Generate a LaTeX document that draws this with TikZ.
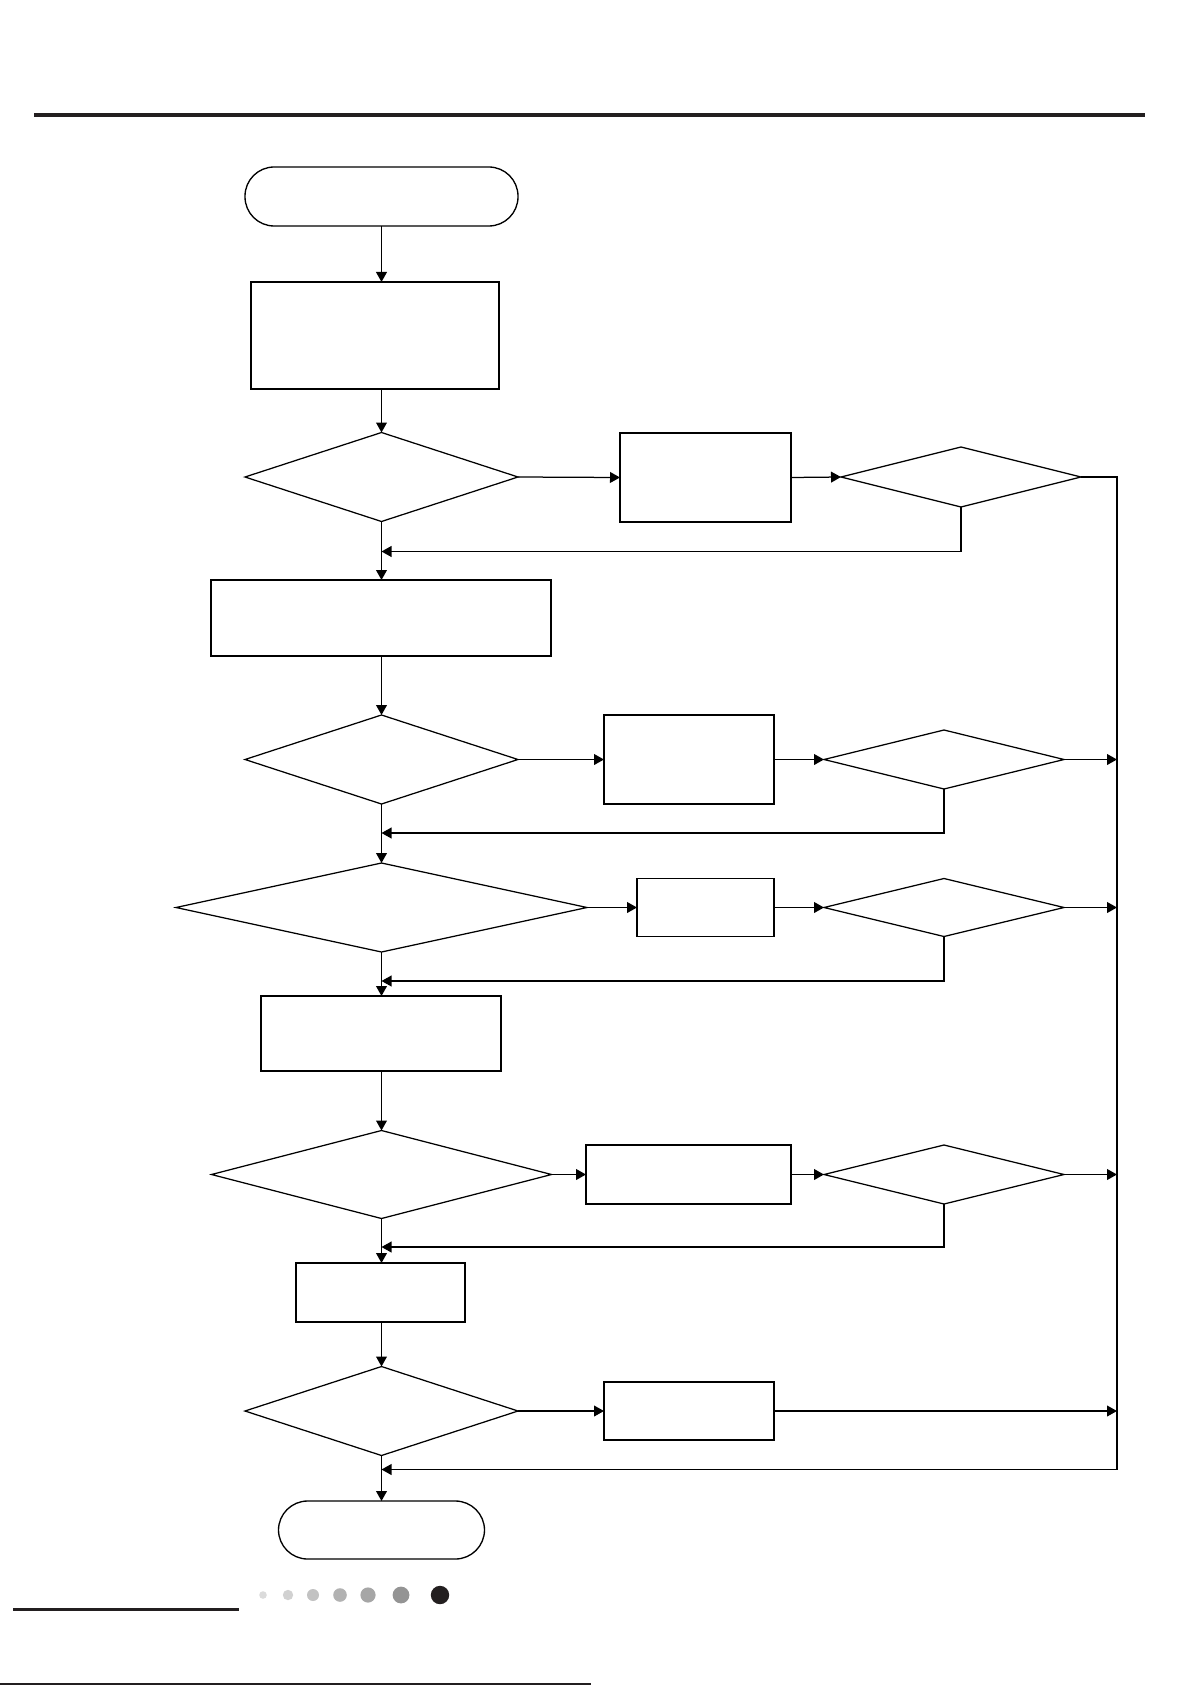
\documentclass[tikz,border=0pt]{standalone}
\usetikzlibrary{shapes.geometric,arrows.meta}
\newcommand\pxu{0.6pt}
\tikzset{
  sz/.style 2 args={minimum width=#1*\pxu, minimum height=#2*\pxu, inner sep=0pt, outer sep=0pt},
  procbox/.style={draw, rectangle, line width=1.15pt},
  decis/.style={draw, diamond, line width=0.75pt},
  termin/.style={draw, rectangle, rounded corners=17.5pt, line width=0.8pt},
  conn/.style={line width=0.75pt},
  arr/.style={conn, -{Triangle[length=6pt,width=6.5pt]}},
  rule/.style={color=rulecol},
}
\definecolor{rulecol}{HTML}{231F20}
\begin{document}
\begin{tikzpicture}[x=0.6pt, y=-0.6pt]
\useasboundingbox (0,0) rectangle (1191,1685);
% decorations
\draw[rule, line width=2.4pt] (34,115) -- (1145,115);
\draw[rule, line width=1.8pt] (13,1609) -- (239,1609);
\draw[rule, line width=1.2pt] (0,1684) -- (591,1684);
\fill[color=black!14] (263,1595) circle (3.8);
\fill[color=black!18] (288,1595) circle (5.2);
\fill[color=black!24] (313,1595) circle (6);
\fill[color=black!30] (340,1595) circle (6.8);
\fill[color=black!35] (368,1595) circle (7.6);
\fill[color=black!42] (401,1595) circle (8.4);
\fill[color=rulecol] (440,1595) circle (9.2);
% nodes
\node[termin, sz={273}{59}] (start) at (381.5,196.5) {};
\node[procbox, sz={248}{107}] (b1) at (375,335.5) {};
\node[decis, sz={273}{89}] (d1) at (381.5,477) {};
\node[procbox, sz={171}{89}] (r1) at (705.5,477.5) {};
\node[decis, sz={240}{60}] (q1) at (961,477) {};
\node[procbox, sz={340}{76}] (b2) at (381,618) {};
\node[decis, sz={273}{89}] (d2) at (381.5,759.5) {};
\node[procbox, sz={170}{89}] (r2) at (689,759.5) {};
\node[decis, sz={240}{59}] (q2) at (944,759.5) {};
\node[decis, sz={411}{89}] (d3) at (381.5,907.5) {};
\node[procbox, sz={137}{58}] (r3) at (705.5,907.5) {};
\node[decis, sz={240}{58}] (q3) at (944,907.5) {};
\node[procbox, sz={240}{75}] (b3) at (381,1033.5) {};
\node[decis, sz={340}{88}] (d4) at (381.5,1174.5) {};
\node[procbox, sz={205}{59}] (r4) at (688.5,1174.5) {};
\node[decis, sz={240}{59}] (q4) at (944,1174.5) {};
\node[procbox, sz={169}{59}] (b4) at (380.5,1292.5) {};
\node[decis, sz={273}{89}] (d5) at (381.5,1411) {};
\node[procbox, sz={170}{58}] (r5) at (689,1411) {};
\node[termin, sz={206}{58}] (stop) at (381.5,1530) {};
% coordinates
\coordinate (rtop) at (1117,477);
\coordinate (rbot) at (1117,1469.5);
\coordinate (f1) at (381.5,551.5);
\coordinate (f2) at (381.5,833);
\coordinate (f3) at (381.5,981);
\coordinate (f4) at (381.5,1247);
\coordinate (f5) at (381.5,1469.5);
% main axis
\draw[arr] (start.south) -- (start.south |- b1.north);
\draw[arr] (d1.north |- b1.south) -- (d1.north);
\draw[arr] (d1.south) -- (d1.south |- b2.north);
\draw[arr] (d2.north |- b2.south) -- (d2.north);
\draw[arr] (d2.south) -- (d3.north);
\draw[arr] (d3.south) -- (d3.south |- b3.north);
\draw[arr] (d4.north |- b3.south) -- (d4.north);
\draw[arr] (d4.south) -- (d4.south |- b4.north);
\draw[arr] (d5.north |- b4.south) -- (d5.north);
\draw[arr] (d5.south) -- (stop.north);
% side branches
\draw[arr] (d1.east) -- (r1.west);
\draw[arr] (r1.east) -- (q1.west);
\draw[arr] (q1.south) |- (f1);
\draw[arr] (d2.east) -- (r2.west);
\draw[arr] (r2.east) -- (q2.west);
\draw[arr] (q2.south) |- (f2);
\draw[arr] (d3.east) -- (r3.west);
\draw[arr] (r3.east) -- (q3.west);
\draw[arr] (q3.south) |- (f3);
\draw[arr] (d4.east) -- (r4.west);
\draw[arr] (r4.east) -- (q4.west);
\draw[arr] (q4.south) |- (f4);
\draw[arr] (d5.east) -- (r5.west);
% right collector
\draw[conn] (q1.east) -- (rtop) -- (rbot);
\draw[arr] (rbot) -- (f5);
\draw[arr] (q2.east) -- (q2.east -| rtop);
\draw[arr] (q3.east) -- (q3.east -| rtop);
\draw[arr] (q4.east) -- (q4.east -| rtop);
\draw[arr] (r5.east) -- (r5.east -| rtop);
\end{tikzpicture}
\end{document}
